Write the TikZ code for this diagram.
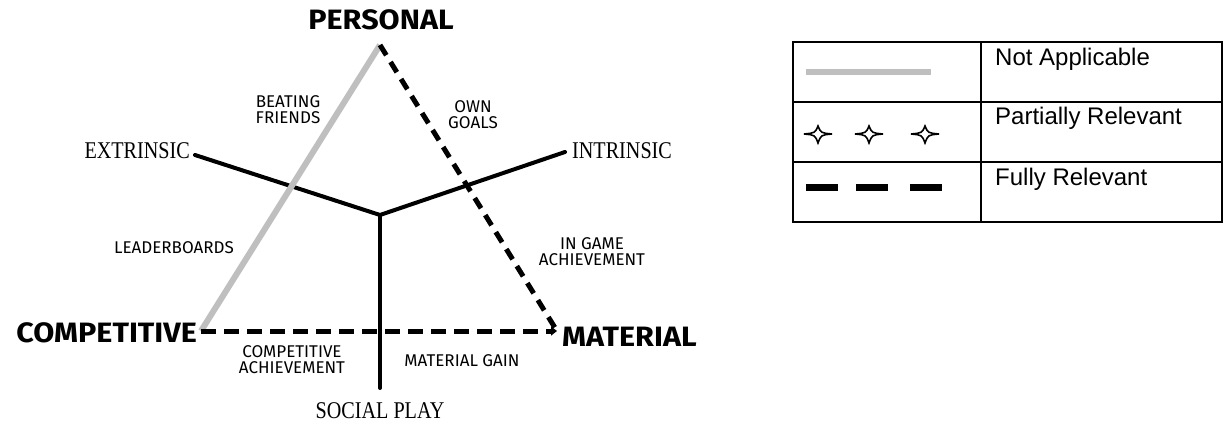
\documentclass[tikz,border=0pt]{standalone}
\usepackage{fontspec}
\setmainfont{Liberation Serif}
\newfontfamily\boldlab[FakeStretch=1.09]{Fira Sans}
\newfontfamily\axisfont[FakeStretch=0.84]{Liberation Serif}
\newfontfamily\smalllab{Fira Sans}
\newfontfamily\tablefont{Liberation Sans}
\usetikzlibrary{arrows.meta}
\tikzset{
  pole/.style={inner sep=1pt, font=\boldlab\bfseries\fontsize{28}{30}\selectfont},
  axislab/.style={inner sep=1pt, font=\axisfont\fontsize{24}{26}\selectfont},
  feature/.style={inner sep=1pt, align=center, font=\smalllab\fontsize{17}{16}\selectfont},
  axis/.style={line width=4pt, line cap=round},
  notapp/.style={line width=6pt, gray!50},
  fullrel/.style={line width=5pt, dash pattern=on 15pt off 8pt},
  legendtext/.style={anchor=north west, inner sep=0pt, font=\tablefont\fontsize{24}{26}\selectfont}
}
\begin{document}
\begin{tikzpicture}[x=1pt,y=-1pt]
		\useasboundingbox (0,0) rectangle (1224,425);
		
		% Corner points of the triangle and the Y
		\coordinate (p) at (380,45);
		\coordinate (c) at (201,331);
		\coordinate (m) at (557,331);
		\coordinate (centre) at (380,215);
		\coordinate (ex) at (195,155);
		\coordinate (in) at (565,152);
		\coordinate (sp) at (380,388);
		
		% Labels at the ends
		\node[pole] (personal) at (381,20) {PERSONAL};
		\node[pole, anchor=east] (competitive) at (198,333) {COMPETITIVE};
		\node[pole, anchor=west] (material) at (561,337) {MATERIAL};
		\node[axislab, anchor=east] (extrinsic) at (191,151) {EXTRINSIC};
		\node[axislab, anchor=west] (intrinsic) at (571,151) {INTRINSIC};
		\node[axislab] (socialplay) at (380,411) {SOCIAL PLAY};
		
		% The Y
		\draw[axis] (ex) -- (centre) -- (in);
		\draw[axis] (centre) -- (sp);
		
		% Sides of the triangle
		\draw[notapp] (p) -- (c);
		\draw[fullrel, line width=5pt, dash pattern=on 12pt off 8pt] (p) -- (m);
		\draw[fullrel, -{Triangle[length=6pt,width=9pt]}] (c) -- (m);
		
		% Features along the sides
		\node[feature] (beating) at (288,110) {BEATING\\FRIENDS};
		\node[feature] (owngoals) at (473,115) {OWN\\GOALS};
		\node[feature] (leaderboards) at (174,248) {LEADERBOARDS};
		\node[feature] (ingame) at (592,252) {IN GAME\\ACHIEVEMENT};
		\node[feature] (compach) at (292,360) {COMPETITIVE\\ACHIEVEMENT};
		\node[feature] (matgain) at (462,361) {MATERIAL GAIN};
		
		% Legend
		\draw[line width=1.2pt] (793,42) rectangle (1222,222);
		\draw[line width=1.2pt] (981,42) -- (981,222);
		\draw[line width=1.2pt] (793,102) -- (1222,102);
		\draw[line width=1.2pt] (793,162) -- (1222,162);
		\fill[gray!50] (806,69) rectangle (931,75);
		\foreach \x in {818,869,925}
		\draw[line width=1.6pt, fill=white] (\x-14,134) .. controls (\x-3,133) .. (\x,126)
		.. controls (\x+3,133) .. (\x+14,134) .. controls (\x+3,135) .. (\x,143)
		.. controls (\x-3,135) .. (\x-14,134) -- cycle;
		\foreach \x in {806,856,910}
		\fill (\x,184) rectangle (\x+32,191);
		\node[legendtext] (na) at (995,48) {Not Applicable};
		\node[legendtext] (pr) at (995,107) {Partially Relevant};
		\node[legendtext] (fr) at (995,168) {Fully Relevant};
		
	\end{tikzpicture}
\end{document}
